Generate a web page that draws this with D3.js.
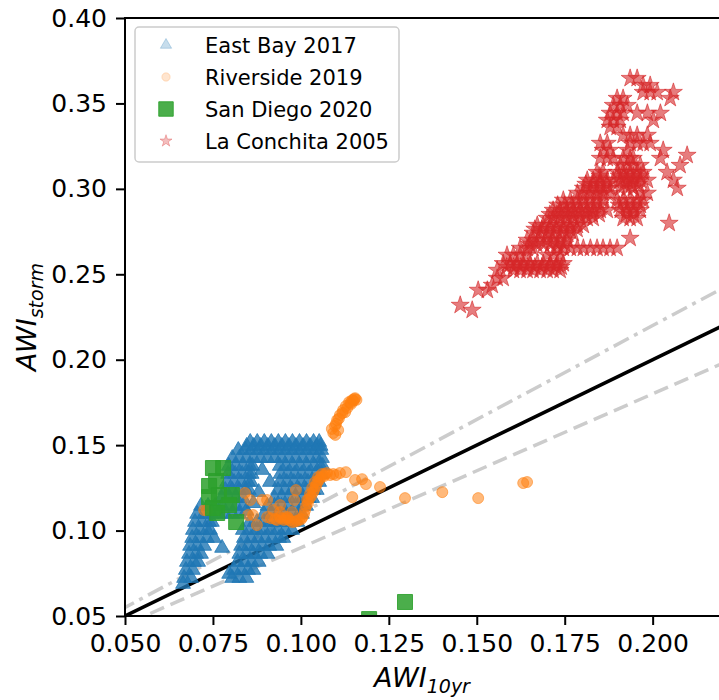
<!DOCTYPE html>
<html>
<head>
<meta charset="utf-8">
<script src="https://cdn.jsdelivr.net/npm/d3@7"></script>
<style>
  body { margin: 0; background: #fff; }
  text { font-family: "DejaVu Sans", sans-serif; }
</style>
</head>
<body>
<div id="chart"></div>
<script>
// Tick values
var xTicks = [0.050, 0.075, 0.100, 0.125, 0.150, 0.175, 0.200];
var yTicks = [0.05, 0.10, 0.15, 0.20, 0.25, 0.30, 0.35, 0.40];

// Series names (legend order)
var seriesNames = ["East Bay 2017", "Riverside 2019", "San Diego 2020", "La Conchita 2005"];

// East Bay 2017: rows of [AWI_storm, [AWI_10yr ...]]
var eastBayRows = [
  [0.1518, [0.0856, 0.0876, 0.0896, 0.0916, 0.0936, 0.0956, 0.0976, 0.0996, 0.1016, 0.1036, 0.1052]],
  [0.1495, [0.0846, 0.0866, 0.0886, 0.0906, 0.0926, 0.0946, 0.0966, 0.0986, 0.1006, 0.1026, 0.1046, 0.1056]],
  [0.1471, [0.0822, 0.0842, 0.0862, 0.0882, 0.0902, 0.0922, 0.0942, 0.0962, 0.0982, 0.1002, 0.1022, 0.1042, 0.1058]],
  [0.1424, [0.0805, 0.0825, 0.0845, 0.0865, 0.0885, 0.0905, 0.0925, 0.0945, 0.0965, 0.0985, 0.1005, 0.1025, 0.1045, 0.1060]],
  [0.1378, [0.0795, 0.0815, 0.0835, 0.0855, 0.0862, 0.0940, 0.0958, 0.0978, 0.0998, 0.1018, 0.1038, 0.1055, 0.1062]],
  [0.1331, [0.0793, 0.0813, 0.0833, 0.0852, 0.0860, 0.0942, 0.0962, 0.0982, 0.1002, 0.1022, 0.1042, 0.1058]],
  [0.1284, [0.0790, 0.0810, 0.0830, 0.0850, 0.0858, 0.0940, 0.0960, 0.0980, 0.1000, 0.1020, 0.1040, 0.1052]],
  [0.1237, [0.0785, 0.0805, 0.0825, 0.0843, 0.0852, 0.0935, 0.0955, 0.0975, 0.0995, 0.1015, 0.1035, 0.1045]],
  [0.1190, [0.0775, 0.0795, 0.0815, 0.0835, 0.0925, 0.0945, 0.0965, 0.0985, 0.1005, 0.1022, 0.1032]],
  [0.1144, [0.0716, 0.0736, 0.0756, 0.0776, 0.0796, 0.0816, 0.0836, 0.0905, 0.0925, 0.0945, 0.0965, 0.0985, 0.1005, 0.1015]],
  [0.1097, [0.0705, 0.0725, 0.0745, 0.0765, 0.0785, 0.0805, 0.0825, 0.0895, 0.0915, 0.0935, 0.0955, 0.0975, 0.0995, 0.1003]],
  [0.1050, [0.0699, 0.0719, 0.0739, 0.0747, 0.0855, 0.0875, 0.0895, 0.0915, 0.0935, 0.0955, 0.0975, 0.0990]],
  [0.1003, [0.0693, 0.0713, 0.0733, 0.0742, 0.0835, 0.0855, 0.0875, 0.0895, 0.0915, 0.0935, 0.0955, 0.0975]],
  [0.0956, [0.0691, 0.0710, 0.0733, 0.0838, 0.0858, 0.0878, 0.0898, 0.0918, 0.0938, 0.0950]],
  [0.0910, [0.0685, 0.0705, 0.0725, 0.0830, 0.0850, 0.0870, 0.0890, 0.0910, 0.0930]],
  [0.0863, [0.0682, 0.0702, 0.0716, 0.0825, 0.0845, 0.0865, 0.0885, 0.0905]],
  [0.0816, [0.0676, 0.0696, 0.0708, 0.0820, 0.0840, 0.0860, 0.0880]],
  [0.0769, [0.0673, 0.0693, 0.0810, 0.0830, 0.0850, 0.0865]],
  [0.0722, [0.0668, 0.0688, 0.0805, 0.0825, 0.0845]],
  [0.0687, [0.0665]]
];
var eastBayExtra = [
  [0.0890, 0.1354], [0.0912, 0.1284], [0.0880, 0.1225], [0.0865, 0.1160],
  [0.0776, 0.0898], [0.0753, 0.0956], [0.0796, 0.0746], [0.0845, 0.1115]
];

// Riverside 2019 points [AWI_10yr, AWI_storm]
var riversidePoints = [
  [0.1092, 0.1571], [0.1097, 0.1612], [0.1103, 0.1647], [0.1111, 0.1676], [0.1120, 0.1705],
  [0.1128, 0.1729], [0.1137, 0.1752], [0.1146, 0.1764], [0.1154, 0.1775], [0.1106, 0.1588],
  [0.1126, 0.1693], [0.1143, 0.1741], [0.1100, 0.1625], [0.1150, 0.1760], [0.1098, 0.1560],
  [0.1108, 0.1655], [0.1118, 0.1688], [0.1132, 0.1718], [0.1141, 0.1748], [0.1152, 0.1770],
  [0.1088, 0.1595], [0.1158, 0.1765],
  [0.0725, 0.1120], [0.0733, 0.1120], [0.0841, 0.1220], [0.0856, 0.1179], [0.0850, 0.1091],
  [0.0864, 0.1091], [0.0875, 0.1032], [0.0904, 0.1179], [0.0904, 0.1079], [0.0927, 0.1067],
  [0.0941, 0.1079], [0.0961, 0.1079], [0.0932, 0.1062], [0.0964, 0.1073], [0.0975, 0.1050],
  [0.0989, 0.1056], [0.1001, 0.1067], [0.1009, 0.1097], [0.0952, 0.1062], [0.0975, 0.1108],
  [0.0941, 0.1108], [0.0921, 0.1120], [0.0890, 0.1179], [0.0986, 0.1237], [0.0981, 0.1179],
  [0.0941, 0.1149], [0.0968, 0.1060], [0.0982, 0.1052], [0.0995, 0.1062], [0.1005, 0.1080],
  [0.0958, 0.1068], [0.0945, 0.1070], [0.0915, 0.1072],
  [0.1015, 0.1144], [0.1023, 0.1184], [0.1035, 0.1225], [0.1043, 0.1260], [0.1012, 0.1120],
  [0.1052, 0.1296], [0.1066, 0.1319], [0.1083, 0.1325], [0.1100, 0.1325], [0.1018, 0.1179],
  [0.1026, 0.1214], [0.1032, 0.1249], [0.1040, 0.1284], [0.1049, 0.1313], [0.1060, 0.1331],
  [0.1074, 0.1337], [0.1092, 0.1331], [0.1111, 0.1337], [0.1128, 0.1342], [0.1020, 0.1160],
  [0.1029, 0.1200], [0.1038, 0.1240], [0.1046, 0.1278], [0.1056, 0.1310], [0.1068, 0.1330],
  [0.1154, 0.1296], [0.1146, 0.1196], [0.1174, 0.1301], [0.1185, 0.1272], [0.1225, 0.1255],
  [0.1296, 0.1190], [0.1402, 0.1225], [0.1504, 0.1190], [0.1632, 0.1278], [0.1643, 0.1284]
];

// San Diego 2020 points
var sanDiegoPoints = [
  [0.0750, 0.1366], [0.0779, 0.1366], [0.0759, 0.1290], [0.0739, 0.1261], [0.0739, 0.1196],
  [0.0767, 0.1208], [0.0750, 0.1132], [0.0762, 0.1103], [0.0804, 0.1208], [0.0796, 0.1149],
  [0.0816, 0.1050], [0.1296, 0.0582], [0.1194, 0.0482]
];

// La Conchita 2005: rows of [AWI_storm, [AWI_10yr ...]]
var laConchitaRows = [
  [0.2319, [0.1453]],
  [0.2290, [0.1487]],
  [0.2407, [0.1504, 0.1530]],
  [0.2436, [0.1544]],
  [0.2477, [0.1558, 0.1575]],
  [0.2524, [0.1558, 0.1604, 0.1623, 0.1643, 0.1660, 0.1680, 0.1700, 0.1717, 0.1737]],
  [0.2543, [0.1585, 0.1605, 0.1625, 0.1645, 0.1665, 0.1685, 0.1705, 0.1725, 0.1740]],
  [0.2563, [0.1575, 0.1595, 0.1615, 0.1632, 0.1652, 0.1672, 0.1689, 0.1709, 0.1729, 0.1746]],
  [0.2612, [0.1586, 0.1604, 0.1623, 0.1643, 0.1700, 0.1717, 0.1737]],
  [0.2653, [0.1623, 0.1643, 0.1660, 0.1729, 0.1746, 0.1766, 0.1786, 0.1803, 0.1823, 0.1842, 0.1859, 0.1879, 0.1899]],
  [0.2677, [0.1650, 0.1670, 0.1690, 0.1710, 0.1730, 0.1750]],
  [0.2700, [0.1643, 0.1660, 0.1680, 0.1700, 0.1717, 0.1737, 0.1757]],
  [0.2711, [0.1936]],
  [0.2741, [0.1660, 0.1680, 0.1700, 0.1717, 0.1737, 0.1757, 0.1774]],
  [0.2764, [0.1665, 0.1685, 0.1705, 0.1725, 0.1745, 0.1765, 0.1785]],
  [0.2787, [0.1672, 0.1689, 0.1709, 0.1729, 0.1746, 0.1766, 0.1786, 0.1803]],
  [0.2799, [0.2047]],
  [0.2828, [0.1700, 0.1717, 0.1737, 0.1757, 0.1774, 0.1794, 0.1814, 0.1831, 0.1916, 0.1936, 0.1956]],
  [0.2851, [0.1708, 0.1728, 0.1748, 0.1768, 0.1788, 0.1808, 0.1828, 0.1848, 0.1925, 0.1945]],
  [0.2875, [0.1717, 0.1737, 0.1757, 0.1774, 0.1794, 0.1814, 0.1831, 0.1851, 0.1871, 0.1908, 0.1928, 0.1945, 0.1965]],
  [0.2905, [0.1730, 0.1750, 0.1770, 0.1790, 0.1810, 0.1830, 0.1850, 0.1905, 0.1925, 0.1945, 0.1965]],
  [0.2934, [0.1746, 0.1766, 0.1786, 0.1803, 0.1823, 0.1842, 0.1859, 0.1899, 0.1916, 0.1936, 0.1956, 0.1973]],
  [0.2975, [0.1786, 0.1803, 0.1823, 0.1842, 0.1859, 0.1879, 0.1965, 0.1985]],
  [0.3004, [0.1803, 0.1823, 0.1842, 0.1859, 0.1879, 0.1908, 0.1928, 0.1945, 0.2070]],
  [0.3027, [0.1810, 0.1830, 0.1850, 0.1870, 0.1920, 0.1940, 0.1960]],
  [0.3051, [0.1814, 0.1831, 0.1851, 0.1871, 0.1888, 0.1908, 0.1928, 0.1945, 0.1965, 0.1985, 0.2059]],
  [0.3075, [0.1850, 0.1905, 0.1925, 0.1945, 0.1965]],
  [0.3097, [0.1842, 0.1859, 0.1899, 0.1916, 0.1936, 0.1956, 0.1973, 0.2041]],
  [0.3138, [0.1908, 0.1928, 0.1945, 0.1965, 0.2078]],
  [0.3179, [0.1851, 0.1871, 0.1888, 0.1916, 0.1936, 0.1945, 0.2022]],
  [0.3197, [0.2098]],
  [0.3226, [0.1859, 0.1879, 0.1928, 0.2030]],
  [0.3267, [0.1851, 0.1871, 0.1936, 0.1956, 0.1973, 0.1993]],
  [0.3314, [0.1916, 0.1936, 0.1956, 0.1985]],
  [0.3361, [0.1879, 0.1899]],
  [0.3402, [0.1871, 0.1888, 0.1908, 0.2002]],
  [0.3443, [0.1879, 0.1899, 0.1916, 0.1956, 0.1985, 0.2022]],
  [0.3489, [0.1888, 0.1908, 0.1928]],
  [0.3530, [0.1899, 0.1916, 0.2050]],
  [0.3565, [0.1973, 0.1993, 0.2013, 0.2059]],
  [0.3606, [0.1973, 0.1993]],
  [0.3647, [0.1936, 0.1956]]
];

// Reference lines y = k * x
var lineSlopes = [1.0, 0.9, 1.1];
var lineXRange = [0.04, 0.23];

// Set the svg width and height
var svgWidth = 719;
var svgHeight = 700;
var margin = { top: 18, right: -4, bottom: 84, left: 125 };
var width = svgWidth - margin.left - margin.right;
var height = svgHeight - margin.top - margin.bottom;

var svg = d3.select("#chart")
  .append("svg")
  .attr("width", svgWidth)
  .attr("height", svgHeight);

var chartGroup = svg.append("g")
  .attr("transform", `translate(${margin.left}, ${margin.top})`);

svg.append("defs").append("clipPath")
  .attr("id", "plotClip")
  .append("rect")
  .attr("width", width)
  .attr("height", height);

var xScale = d3.scaleLinear().domain([0.05, 0.22]).range([0, width]);
var yScale = d3.scaleLinear().domain([0.05, 0.40]).range([height, 0]);

var flatten = rows => rows.flatMap(r => r[1].map(x => [x, r[0]]));
var eastBayPoints = flatten(eastBayRows).concat(eastBayExtra);
var laConchitaPoints = flatten(laConchitaRows);

// Reference lines first, scatter goes over them
var plot = chartGroup.append("g").attr("clip-path", "url(#plotClip)");
var lineStyles = [
  { stroke: "#000", width: 3.5, dash: null },
  { stroke: "#cccccc", width: 3.5, dash: "15,7" },
  { stroke: "#cccccc", width: 3.5, dash: "17,6,4,6" }
];
lineSlopes.forEach(function(k, i) {
  plot.append("line")
    .attr("x1", xScale(lineXRange[0]))
    .attr("y1", yScale(k * lineXRange[0]))
    .attr("x2", xScale(lineXRange[1]))
    .attr("y2", yScale(k * lineXRange[1]))
    .attr("stroke", lineStyles[i].stroke)
    .attr("stroke-width", lineStyles[i].width)
    .attr("stroke-dasharray", lineStyles[i].dash);
});

var seriesStyle = [
  { pts: eastBayPoints, type: d3.symbolTriangle, size: 95, color: "#1f77b4", op: 0.8, legOp: 0.25, legSize: 55 },
  { pts: riversidePoints, type: d3.symbolCircle, size: 95, color: "#ff7f0e", op: 0.55, legOp: 0.2, legSize: 55 },
  { pts: sanDiegoPoints, type: d3.symbolSquare, size: 225, color: "#2ca02c", op: 0.85, legOp: 0.85, legSize: 210 },
  { pts: laConchitaPoints, type: d3.symbolStar, size: 100, color: "#d62728", op: 0.6, legOp: 0.3, legSize: 45 }
];

seriesStyle.forEach(function(s) {
  plot.append("g").selectAll("path")
    .data(s.pts)
    .enter()
    .append("path")
    .attr("transform", d => `translate(${xScale(d[0])}, ${yScale(d[1])})`)
    .attr("d", d3.symbol().type(s.type).size(s.size))
    .attr("fill", s.color)
    .attr("fill-opacity", s.op)
    .attr("stroke", s.color)
    .attr("stroke-opacity", s.op)
    .attr("stroke-width", 1);
});

// Axes
var bottomAxis = d3.axisBottom(xScale).tickValues(xTicks).tickFormat(d3.format(".3f"))
  .tickSize(9).tickPadding(9);
var leftAxis = d3.axisLeft(yScale).tickValues(yTicks).tickFormat(d3.format(".2f"))
  .tickSize(9).tickPadding(9);

var xAxisG = chartGroup.append("g")
  .attr("transform", `translate(0, ${height})`)
  .call(bottomAxis);
var yAxisG = chartGroup.append("g").call(leftAxis);

[xAxisG, yAxisG].forEach(function(g) {
  g.select(".domain").remove();
  g.selectAll("line").attr("stroke", "#000").attr("stroke-width", 2);
  g.selectAll("text")
    .attr("fill", "#000")
    .style("font-family", "'DejaVu Sans', sans-serif")
    .style("font-size", "25px");
});

// Frame
chartGroup.append("rect")
  .attr("width", width)
  .attr("height", height)
  .attr("fill", "none")
  .attr("stroke", "#000")
  .attr("stroke-width", 2);

// Axis labels
var xLabel = chartGroup.append("text")
  .attr("x", width / 2 - 2)
  .attr("y", height + 71)
  .attr("text-anchor", "middle")
  .style("font-size", "27px")
  .style("font-style", "italic");
xLabel.append("tspan").text("AWI");
xLabel.append("tspan").attr("dy", 6).style("font-size", "19px").text("10yr");

var yLabel = chartGroup.append("text")
  .attr("transform", `translate(${-89}, ${height / 2}) rotate(-90)`)
  .attr("text-anchor", "middle")
  .style("font-size", "27px")
  .style("font-style", "italic");
yLabel.append("tspan").text("AWI");
yLabel.append("tspan").attr("dy", 7).style("font-size", "19px").text("storm");

// Legend
var legend = svg.append("g");
legend.append("rect")
  .attr("x", 135).attr("y", 27)
  .attr("width", 264).attr("height", 135)
  .attr("rx", 4)
  .attr("fill", "#fff").attr("fill-opacity", 0.8)
  .attr("stroke", "#cccccc").attr("stroke-width", 1.5);

seriesNames.forEach(function(name, i) {
  var s = seriesStyle[i];
  var cy = 45 + i * 32;
  legend.append("path")
    .attr("transform", `translate(166, ${cy})`)
    .attr("d", d3.symbol().type(s.type).size(s.legSize))
    .attr("fill", s.color)
    .attr("fill-opacity", s.legOp)
    .attr("stroke", s.color)
    .attr("stroke-opacity", s.legOp);
  legend.append("text")
    .attr("x", 205)
    .attr("y", cy)
    .attr("dy", "0.36em")
    .style("font-size", "21px")
    .attr("fill", "#000")
    .text(name);
});
</script>
</body>
</html>
